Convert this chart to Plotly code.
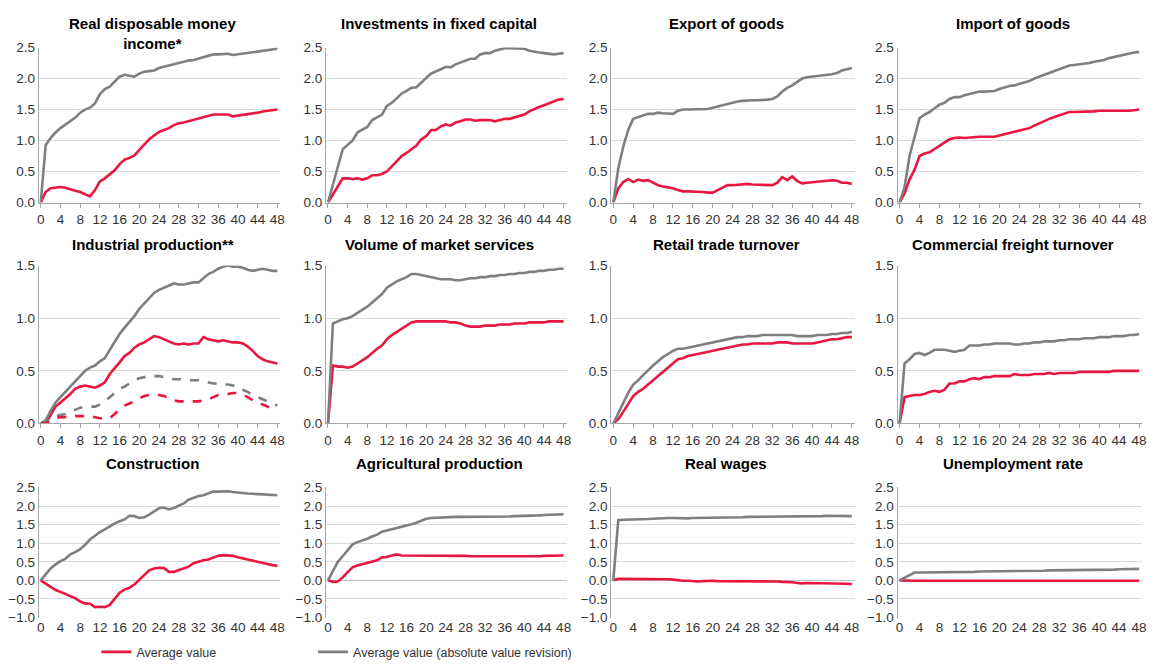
import plotly.graph_objects as go

months = list(range(49))
tick_vals = list(range(0, 49, 4))
tick_text = [str(v) for v in tick_vals]

titles = [
    "Real disposable money<br>income*", "Investments in fixed capital", "Export of goods", "Import of goods",
    "Industrial production**", "Volume of market services", "Retail trade turnover", "Commercial freight turnover",
    "Construction", "Agricultural production", "Real wages", "Unemployment rate",
]

# Average value (red) and average absolute revision (gray), per indicator
income_avg = [0, 0.17, 0.23, 0.24, 0.25, 0.24, 0.21, 0.19, 0.17, 0.13, 0.10, 0.20, 0.34, 0.39, 0.45, 0.52, 0.62, 0.69, 0.72, 0.76, 0.85, 0.93, 1.02, 1.08, 1.14, 1.17, 1.20, 1.25, 1.28, 1.29, 1.31, 1.34, 1.36, 1.38, 1.40, 1.42, 1.42, 1.42, 1.42, 1.39, 1.40, 1.42, 1.43, 1.44, 1.45, 1.47, 1.48, 1.48, 1.50]
income_abs = [0, 0.93, 1.04, 1.13, 1.20, 1.26, 1.31, 1.37, 1.45, 1.50, 1.53, 1.60, 1.75, 1.83, 1.87, 1.95, 2.03, 2.06, 2.05, 2.03, 2.08, 2.11, 2.12, 2.13, 2.17, 2.19, 2.21, 2.24, 2.26, 2.28, 2.29, 2.30, 2.32, 2.35, 2.37, 2.39, 2.39, 2.39, 2.40, 2.38, 2.39, 2.40, 2.41, 2.42, 2.44, 2.45, 2.46, 2.47, 2.48]

invest_avg = [0, 0.13, 0.26, 0.39, 0.39, 0.38, 0.39, 0.37, 0.39, 0.44, 0.44, 0.46, 0.50, 0.58, 0.67, 0.75, 0.80, 0.86, 0.92, 1.02, 1.07, 1.17, 1.17, 1.23, 1.26, 1.24, 1.29, 1.31, 1.34, 1.34, 1.32, 1.33, 1.33, 1.33, 1.31, 1.33, 1.35, 1.35, 1.37, 1.40, 1.42, 1.47, 1.51, 1.54, 1.57, 1.60, 1.63, 1.66, 1.67]
invest_abs = [0, 0.30, 0.58, 0.86, 0.93, 1.00, 1.13, 1.18, 1.22, 1.33, 1.37, 1.42, 1.56, 1.61, 1.68, 1.76, 1.80, 1.85, 1.86, 1.94, 2.01, 2.08, 2.11, 2.15, 2.19, 2.18, 2.23, 2.26, 2.28, 2.32, 2.32, 2.39, 2.41, 2.41, 2.45, 2.47, 2.49, 2.49, 2.49, 2.48, 2.48, 2.45, 2.43, 2.42, 2.41, 2.40, 2.39, 2.40, 2.41]

export_avg = [0, 0.23, 0.33, 0.38, 0.33, 0.37, 0.35, 0.36, 0.32, 0.28, 0.26, 0.25, 0.23, 0.20, 0.18, 0.18, 0.18, 0.18, 0.17, 0.16, 0.16, 0.20, 0.24, 0.28, 0.28, 0.29, 0.29, 0.30, 0.29, 0.29, 0.28, 0.28, 0.28, 0.32, 0.41, 0.36, 0.42, 0.35, 0.31, 0.32, 0.33, 0.34, 0.34, 0.35, 0.36, 0.35, 0.32, 0.32, 0.30]
export_abs = [0, 0.55, 0.90, 1.17, 1.35, 1.38, 1.40, 1.43, 1.43, 1.45, 1.44, 1.43, 1.43, 1.48, 1.50, 1.50, 1.50, 1.50, 1.50, 1.51, 1.53, 1.55, 1.58, 1.59, 1.62, 1.63, 1.64, 1.65, 1.65, 1.65, 1.65, 1.66, 1.67, 1.71, 1.79, 1.85, 1.89, 1.94, 2.00, 2.02, 2.03, 2.03, 2.04, 2.05, 2.07, 2.09, 2.13, 2.15, 2.17]

import_avg = [0, 0.15, 0.37, 0.53, 0.75, 0.79, 0.81, 0.86, 0.91, 0.96, 1.02, 1.04, 1.05, 1.04, 1.05, 1.05, 1.06, 1.06, 1.06, 1.06, 1.08, 1.10, 1.12, 1.13, 1.15, 1.17, 1.20, 1.24, 1.28, 1.31, 1.35, 1.38, 1.41, 1.44, 1.46, 1.46, 1.46, 1.47, 1.47, 1.47, 1.48, 1.48, 1.47, 1.47, 1.47, 1.47, 1.48, 1.49, 1.50]
import_abs = [0, 0.25, 0.75, 1.05, 1.36, 1.42, 1.46, 1.52, 1.58, 1.61, 1.67, 1.70, 1.70, 1.73, 1.75, 1.78, 1.79, 1.79, 1.80, 1.80, 1.83, 1.86, 1.88, 1.89, 1.91, 1.93, 1.96, 2.00, 2.03, 2.06, 2.10, 2.13, 2.15, 2.18, 2.21, 2.22, 2.23, 2.23, 2.25, 2.27, 2.28, 2.30, 2.33, 2.35, 2.37, 2.39, 2.41, 2.42, 2.43]

indprod_avg = [0, 0.00, 0.08, 0.16, 0.20, 0.24, 0.28, 0.33, 0.35, 0.36, 0.35, 0.34, 0.36, 0.39, 0.47, 0.52, 0.58, 0.64, 0.67, 0.72, 0.75, 0.77, 0.80, 0.83, 0.82, 0.80, 0.78, 0.76, 0.75, 0.76, 0.75, 0.76, 0.76, 0.82, 0.80, 0.79, 0.78, 0.79, 0.78, 0.77, 0.77, 0.76, 0.73, 0.69, 0.64, 0.61, 0.59, 0.58, 0.57]
indprod_abs = [0, 0.03, 0.12, 0.20, 0.25, 0.30, 0.36, 0.41, 0.46, 0.50, 0.53, 0.55, 0.59, 0.62, 0.70, 0.78, 0.85, 0.91, 0.96, 1.02, 1.09, 1.14, 1.19, 1.24, 1.27, 1.29, 1.31, 1.33, 1.32, 1.32, 1.33, 1.34, 1.34, 1.38, 1.42, 1.44, 1.47, 1.49, 1.50, 1.49, 1.49, 1.48, 1.46, 1.45, 1.46, 1.47, 1.46, 1.45, 1.45]
indprod_avg2 = [0, 0.00, 0.03, 0.05, 0.06, 0.06, 0.06, 0.07, 0.07, 0.07, 0.07, 0.06, 0.05, 0.05, 0.05, 0.09, 0.13, 0.17, 0.19, 0.21, 0.24, 0.26, 0.27, 0.28, 0.27, 0.26, 0.24, 0.22, 0.21, 0.21, 0.21, 0.21, 0.21, 0.22, 0.23, 0.25, 0.27, 0.28, 0.28, 0.29, 0.29, 0.27, 0.25, 0.22, 0.20, 0.18, 0.16, 0.14, 0.12]
indprod_abs2 = [0, 0.02, 0.05, 0.07, 0.08, 0.09, 0.11, 0.13, 0.15, 0.16, 0.16, 0.16, 0.18, 0.21, 0.25, 0.29, 0.33, 0.35, 0.38, 0.41, 0.43, 0.44, 0.45, 0.45, 0.45, 0.44, 0.43, 0.42, 0.42, 0.42, 0.41, 0.41, 0.41, 0.40, 0.39, 0.38, 0.38, 0.37, 0.37, 0.36, 0.35, 0.32, 0.30, 0.27, 0.25, 0.23, 0.21, 0.19, 0.17]

services_avg = [0, 0.55, 0.54, 0.54, 0.53, 0.54, 0.57, 0.60, 0.63, 0.67, 0.71, 0.74, 0.80, 0.84, 0.87, 0.90, 0.93, 0.96, 0.97, 0.97, 0.97, 0.97, 0.97, 0.97, 0.97, 0.96, 0.96, 0.95, 0.93, 0.92, 0.92, 0.92, 0.93, 0.93, 0.93, 0.94, 0.94, 0.94, 0.95, 0.95, 0.95, 0.96, 0.96, 0.96, 0.96, 0.97, 0.97, 0.97, 0.97]
services_abs = [0, 0.95, 0.97, 0.99, 1.00, 1.02, 1.05, 1.08, 1.11, 1.15, 1.19, 1.23, 1.29, 1.32, 1.35, 1.37, 1.39, 1.42, 1.42, 1.41, 1.40, 1.39, 1.38, 1.37, 1.37, 1.37, 1.36, 1.36, 1.37, 1.38, 1.38, 1.39, 1.39, 1.40, 1.40, 1.41, 1.41, 1.42, 1.42, 1.43, 1.43, 1.44, 1.44, 1.45, 1.45, 1.46, 1.46, 1.47, 1.47]

retail_avg = [0, 0.04, 0.11, 0.19, 0.26, 0.30, 0.33, 0.37, 0.41, 0.45, 0.49, 0.53, 0.57, 0.61, 0.62, 0.64, 0.65, 0.66, 0.67, 0.68, 0.69, 0.70, 0.71, 0.72, 0.73, 0.74, 0.75, 0.75, 0.76, 0.76, 0.76, 0.76, 0.76, 0.77, 0.77, 0.77, 0.76, 0.76, 0.76, 0.76, 0.76, 0.77, 0.78, 0.79, 0.80, 0.80, 0.81, 0.82, 0.82]
retail_abs = [0, 0.10, 0.20, 0.29, 0.37, 0.41, 0.46, 0.51, 0.55, 0.59, 0.63, 0.66, 0.69, 0.71, 0.71, 0.72, 0.73, 0.74, 0.75, 0.76, 0.77, 0.78, 0.79, 0.80, 0.81, 0.82, 0.82, 0.83, 0.83, 0.83, 0.84, 0.84, 0.84, 0.84, 0.84, 0.84, 0.84, 0.83, 0.83, 0.83, 0.83, 0.84, 0.84, 0.84, 0.85, 0.85, 0.86, 0.86, 0.87]

freight_avg = [0, 0.25, 0.26, 0.27, 0.27, 0.28, 0.30, 0.31, 0.30, 0.32, 0.38, 0.38, 0.40, 0.40, 0.42, 0.43, 0.42, 0.44, 0.44, 0.45, 0.45, 0.45, 0.45, 0.47, 0.46, 0.46, 0.46, 0.47, 0.47, 0.47, 0.48, 0.47, 0.48, 0.48, 0.48, 0.48, 0.49, 0.49, 0.49, 0.49, 0.49, 0.49, 0.49, 0.50, 0.50, 0.50, 0.50, 0.50, 0.50]
freight_abs = [0, 0.57, 0.61, 0.66, 0.67, 0.65, 0.67, 0.70, 0.70, 0.70, 0.69, 0.68, 0.69, 0.70, 0.74, 0.74, 0.74, 0.75, 0.75, 0.76, 0.76, 0.76, 0.76, 0.75, 0.75, 0.76, 0.76, 0.77, 0.77, 0.78, 0.78, 0.78, 0.79, 0.79, 0.80, 0.80, 0.80, 0.81, 0.81, 0.81, 0.82, 0.82, 0.82, 0.83, 0.83, 0.83, 0.84, 0.84, 0.85]

constr_avg = [0, -0.09, -0.19, -0.26, -0.31, -0.37, -0.43, -0.48, -0.57, -0.62, -0.63, -0.72, -0.71, -0.72, -0.66, -0.50, -0.33, -0.25, -0.20, -0.11, 0.02, 0.14, 0.27, 0.32, 0.34, 0.33, 0.23, 0.23, 0.28, 0.33, 0.37, 0.46, 0.51, 0.54, 0.56, 0.61, 0.66, 0.68, 0.68, 0.66, 0.62, 0.59, 0.56, 0.53, 0.49, 0.46, 0.43, 0.41, 0.39]
constr_abs = [0, 0.17, 0.32, 0.43, 0.52, 0.58, 0.70, 0.76, 0.84, 0.96, 1.10, 1.20, 1.30, 1.37, 1.46, 1.53, 1.59, 1.64, 1.74, 1.73, 1.68, 1.70, 1.77, 1.86, 1.94, 1.96, 1.91, 1.95, 2.00, 2.07, 2.17, 2.22, 2.27, 2.29, 2.34, 2.39, 2.39, 2.40, 2.40, 2.38, 2.36, 2.35, 2.34, 2.33, 2.32, 2.31, 2.30, 2.29, 2.29]

agri_avg = [0, -0.04, -0.03, 0.08, 0.22, 0.35, 0.40, 0.43, 0.47, 0.51, 0.54, 0.62, 0.63, 0.67, 0.70, 0.67, 0.67, 0.67, 0.67, 0.67, 0.67, 0.67, 0.68, 0.68, 0.67, 0.67, 0.67, 0.67, 0.66, 0.65, 0.65, 0.64, 0.64, 0.64, 0.64, 0.63, 0.63, 0.63, 0.63, 0.63, 0.64, 0.64, 0.65, 0.65, 0.66, 0.66, 0.67, 0.67, 0.67]
agri_abs = [0, 0.25, 0.50, 0.65, 0.82, 0.97, 1.03, 1.07, 1.12, 1.18, 1.23, 1.31, 1.34, 1.38, 1.42, 1.45, 1.47, 1.51, 1.55, 1.60, 1.66, 1.68, 1.69, 1.70, 1.70, 1.70, 1.71, 1.71, 1.71, 1.70, 1.70, 1.70, 1.70, 1.71, 1.71, 1.72, 1.72, 1.72, 1.73, 1.73, 1.74, 1.74, 1.75, 1.75, 1.76, 1.76, 1.77, 1.77, 1.78]

wages_avg = [0, 0.04, 0.04, 0.04, 0.04, 0.05, 0.05, 0.05, 0.05, 0.05, 0.04, 0.03, 0.02, 0.00, -0.01, -0.01, -0.02, -0.03, -0.02, -0.01, -0.01, -0.02, -0.02, -0.03, -0.02, -0.01, -0.01, -0.02, -0.01, -0.01, -0.03, -0.02, -0.02, -0.03, -0.04, -0.04, -0.05, -0.07, -0.08, -0.07, -0.07, -0.07, -0.07, -0.07, -0.07, -0.07, -0.09, -0.09, -0.10]
wages_abs = [0, 1.62, 1.63, 1.63, 1.63, 1.64, 1.64, 1.65, 1.66, 1.67, 1.68, 1.68, 1.68, 1.67, 1.67, 1.67, 1.68, 1.68, 1.68, 1.68, 1.68, 1.69, 1.69, 1.69, 1.70, 1.70, 1.70, 1.71, 1.71, 1.72, 1.71, 1.71, 1.71, 1.71, 1.72, 1.72, 1.72, 1.71, 1.71, 1.71, 1.71, 1.72, 1.73, 1.74, 1.74, 1.75, 1.74, 1.74, 1.73]

unemp_avg = [0, -0.01, -0.01, -0.01, -0.01, -0.01, -0.01, -0.01, -0.01, -0.01, -0.01, -0.01, -0.01, -0.01, -0.01, -0.01, 0.00, 0.00, 0.00, 0.00, 0.00, 0.00, 0.00, 0.00, 0.00, 0.00, 0.00, 0.00, 0.00, 0.00, 0.00, 0.00, 0.00, 0.00, -0.01, -0.01, -0.01, -0.01, -0.01, -0.01, -0.01, -0.01, -0.01, -0.01, -0.01, -0.01, -0.01, -0.01, -0.01]
unemp_abs = [0, 0.07, 0.15, 0.21, 0.21, 0.21, 0.22, 0.22, 0.22, 0.22, 0.22, 0.23, 0.23, 0.23, 0.23, 0.23, 0.24, 0.24, 0.24, 0.24, 0.25, 0.25, 0.25, 0.25, 0.26, 0.26, 0.26, 0.26, 0.26, 0.26, 0.27, 0.27, 0.27, 0.27, 0.27, 0.28, 0.28, 0.28, 0.28, 0.28, 0.29, 0.29, 0.29, 0.29, 0.30, 0.30, 0.30, 0.31, 0.31]

avg_series = [income_avg, invest_avg, export_avg, import_avg, indprod_avg, services_avg, retail_avg, freight_avg,
              constr_avg, agri_avg, wages_avg, unemp_avg]
abs_series = [income_abs, invest_abs, export_abs, import_abs, indprod_abs, services_abs, retail_abs, freight_abs,
              constr_abs, agri_abs, wages_abs, unemp_abs]

RED = "#E8173F"
GRAY = "#7F7F7F"
W, H = 1161, 670

col_px = [(37, 280), (326, 568), (613, 858), (901, 1147)]
row_px = [(41.5, 200), (264.5, 426), (491.5, 624.5)]
row_ranges = [[0, 2.5], [0, 1.5], [-1.0, 2.5]]
title_y = [17, 243, 467]

fig = go.Figure()
annotations = []
font = "Liberation Sans, Arial, sans-serif"
TICKFONT = dict(size=13.5, color="#333333", family=font)

for i in range(12):
    r, c = divmod(i, 4)
    n = i + 1
    xa = "x" if n == 1 else f"x{n}"
    ya = "y" if n == 1 else f"y{n}"
    fig.add_trace(go.Scatter(x=months, y=avg_series[i], mode="lines", name="Average value",
                             line=dict(color=RED, width=2.6), xaxis=xa, yaxis=ya,
                             showlegend=(i == 0), legend="legend"))
    fig.add_trace(go.Scatter(x=months, y=abs_series[i], mode="lines",
                             name="Average value (absolute value revision)",
                             line=dict(color=GRAY, width=2.6), xaxis=xa, yaxis=ya,
                             showlegend=(i == 0), legend="legend2"))
    if i == 4:
        fig.add_trace(go.Scatter(x=months, y=indprod_abs2, mode="lines", showlegend=False,
                                 line=dict(color=GRAY, width=2.6, dash="dash"), xaxis=xa, yaxis=ya))
        fig.add_trace(go.Scatter(x=months, y=indprod_avg2, mode="lines", showlegend=False,
                                 line=dict(color=RED, width=2.6, dash="dash"), xaxis=xa, yaxis=ya))
    x0, x1 = col_px[c]
    y0, y1 = row_px[r]
    key_x = "xaxis" if n == 1 else f"xaxis{n}"
    key_y = "yaxis" if n == 1 else f"yaxis{n}"
    fig.layout[key_x] = dict(domain=[x0 / W, x1 / W], range=[-0.4, 48.6], anchor=ya,
                             tickmode="array", tickvals=tick_vals, ticktext=tick_text,
                             showgrid=False, zeroline=False, showline=(r < 2), linecolor="#A6A6A6",
                             ticks="outside" if r < 2 else "", ticklen=4, tickcolor="#A6A6A6",
                             tickfont=TICKFONT, fixedrange=True)
    fig.layout[key_y] = dict(domain=[1 - y1 / H, 1 - y0 / H], range=row_ranges[r], anchor=xa,
                             dtick=0.5, tickformat=".1f", showgrid=True, gridcolor="#D9D9D9",
                             gridwidth=1, zeroline=(r == 2), zerolinecolor="#BFBFBF", zerolinewidth=1,
                             showline=True, linecolor="#A6A6A6", linewidth=1.3, ticks="",
                             tickfont=TICKFONT, fixedrange=True)
    cx = (x0 + x1) / 2 - 7
    ty = title_y[r] + (10 if i == 0 else 0)
    annotations.append(dict(text=f"<b>{titles[i]}</b>", x=cx / W, y=1 - ty / H, xref="paper", yref="paper",
                            showarrow=False, xanchor="center", yanchor="middle",
                            font=dict(size=15, color="#000000", family=font)))

legend_common = dict(orientation="h", y=1 - 660 / H, xanchor="left", yanchor="middle",
                     font=dict(size=12.5, color="#333333", family=font),
                     bgcolor="rgba(0,0,0,0)")
fig.update_layout(
    width=W, height=H, margin=dict(l=0, r=0, t=0, b=0),
    paper_bgcolor="white", plot_bgcolor="white",
    annotations=annotations,
    showlegend=True,
    legend=dict(x=95 / W, **legend_common),
    legend2=dict(x=313 / W, **legend_common),
)

fig.write_html("out.html")
